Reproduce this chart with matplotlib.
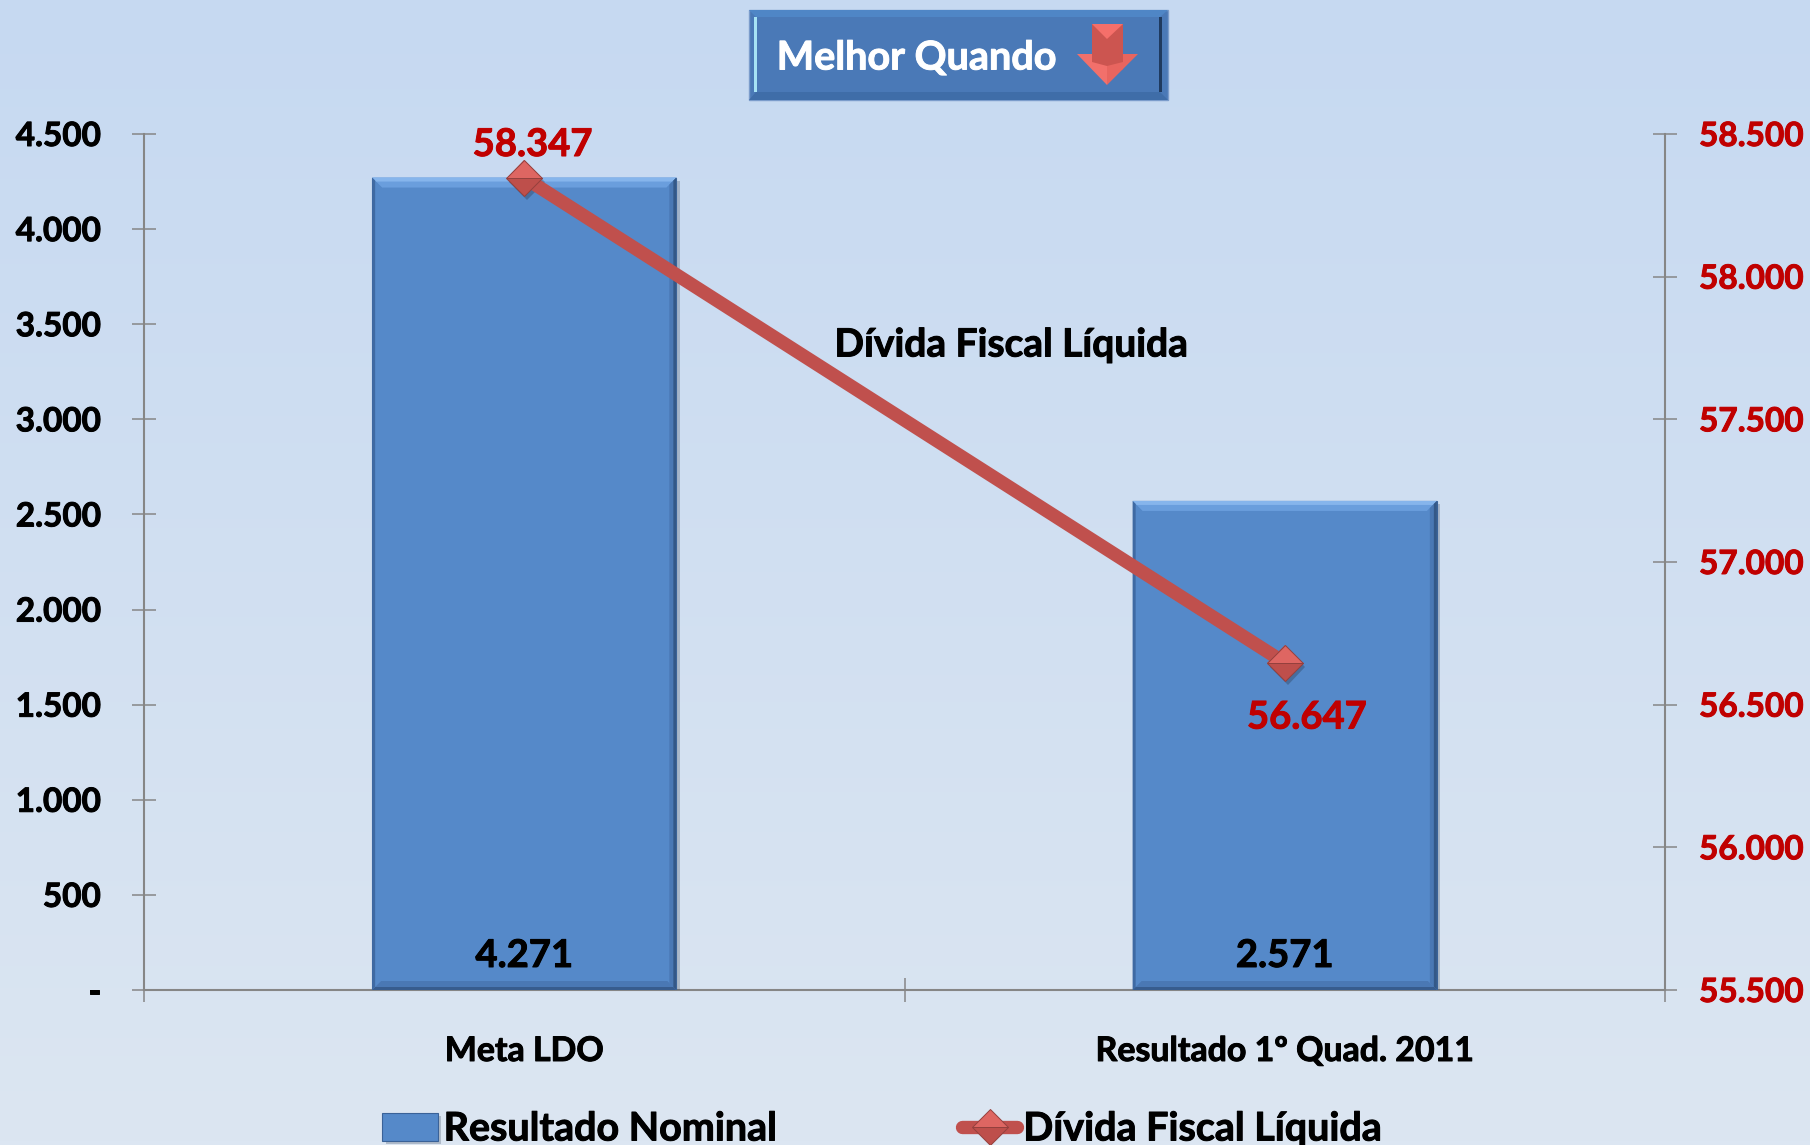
import matplotlib
matplotlib.use('Agg')
import matplotlib.pyplot as plt
import matplotlib.patheffects as pe
from matplotlib.colors import LinearSegmentedColormap
from matplotlib.patches import Polygon
from matplotlib.text import Text
from matplotlib.transforms import IdentityTransform
import numpy as np

# datos
categorias = ['Meta LDO', 'Resultado 1º Quad. 2011']
resultado_nominal = [4271, 2571]
divida_fiscal = [58347, 56647]
ticks_esq = [0, 500, 1000, 1500, 2000, 2500, 3000, 3500, 4000, 4500]
labels_esq = ['-', '500', '1.000', '1.500', '2.000', '2.500', '3.000', '3.500', '4.000', '4.500']
ticks_dir = [55500, 56000, 56500, 57000, 57500, 58000, 58500]
labels_dir = ['55.500', '56.000', '56.500', '57.000', '57.500', '58.000', '58.500']
labels_barra = ['4.271', '2.571']
labels_linha = ['58.347', '56.647']

W, H = 1810, 1145
plt.rcParams['font.family'] = ['Lato', 'DejaVu Sans']
plt.rcParams['font.weight'] = 'bold'

fig = plt.figure(figsize=(W / 100, H / 100), dpi=100)

# fondo con degrade
fundo = fig.add_axes([0, 0, 1, 1], zorder=0)
cm = LinearSegmentedColormap.from_list('fundo', ['#C6D9F1', '#DCE6F2'])
fundo.imshow(np.linspace(0, 1, 256).reshape(-1, 1), cmap=cm, aspect='auto', extent=[0, 1, 0, 1])
fundo.axis('off')

ax = fig.add_axes([144 / W, 1 - 990 / H, (1665 - 144) / W, (990 - 134) / H], zorder=1)
ax.patch.set_alpha(0)
ax2 = ax.twinx()
ax2.patch.set_alpha(0)

x = np.arange(len(categorias))
ax.set_xlim(-0.5, 1.5)
ax.set_ylim(0, 4500)
ax2.set_ylim(55500, 58500)

barras = ax.bar(x, resultado_nominal, width=0.4, color='#5589C9', edgecolor='#3A6298', linewidth=0.8,
                label='Resultado Nominal', zorder=2,
                path_effects=[pe.SimplePatchShadow(offset=(2.5, -2.5), alpha=0.25, shadow_rgbFace='#2A3A50'),
                              pe.Normal()])

# bisel de las barras, en pixeles
for r in barras:
    (x0, y0), (x1, y1) = ax.transData.transform([(r.get_x(), 0), (r.get_x() + r.get_width(), r.get_height())])
    caras = [
        # banda exterior y banda interior
        ([(x0, y1), (x1, y1), (x1 - 10, y1 - 10), (x0 + 10, y1 - 10)], '#6A9EDD'),
        ([(x0, y1), (x1, y1), (x1 - 4, y1 - 4), (x0 + 4, y1 - 4)], '#86B5EC'),
        ([(x0, y0), (x1, y0), (x1 - 9, y0 + 9), (x0 + 9, y0 + 9)], '#4A78B4'),
        ([(x0, y0), (x1, y0), (x1 - 3, y0 + 3), (x0 + 3, y0 + 3)], '#375C8E'),
        ([(x0, y0), (x0, y1), (x0 + 3, y1 - 3), (x0 + 3, y0 + 3)], '#3F6AA3'),
        ([(x1, y0), (x1, y1), (x1 - 7, y1 - 7), (x1 - 7, y0 + 7)], '#4A78B4'),
        ([(x1, y0), (x1, y1), (x1 - 3, y1 - 3), (x1 - 3, y0 + 3)], '#345887'),
    ]
    for pts, c in caras:
        ax.add_patch(Polygon(pts, closed=True, fc=c, ec='none', transform=IdentityTransform(), zorder=2.5))

for xi, txt in zip(x, labels_barra):
    ax.annotate(txt, (xi, 0), xytext=(0, 34 * 0.72), textcoords='offset points', ha='center', va='center',
                fontsize=27.5, color='black', zorder=5)

# sombra de los marcadores
ax2.plot(x, divida_fiscal, ls='', marker='D', ms=18, mfc='#C0504D', mec='none', zorder=3.5,
         path_effects=[pe.SimplePatchShadow(offset=(2, -3), alpha=0.35, shadow_rgbFace='#2A3A50'), pe.Normal()])
linha, = ax2.plot(x, divida_fiscal, color='#C0504D', lw=9.6, solid_capstyle='round', marker='D',
                  ms=18.5, mfc='#DE6662', markerfacecoloralt='#BE4F4B', fillstyle='top', mec='#94403D', mew=0.7,
                  label='Dívida Fiscal Líquida', zorder=4)

ax2.annotate(labels_linha[0], (x[0], divida_fiscal[0]), xytext=(6, 23.5), textcoords='offset points',
             ha='center', va='center', fontsize=27.5, color='#C00000')
ax2.annotate(labels_linha[1], (x[1], divida_fiscal[1]), xytext=(16, -39.5), textcoords='offset points',
             ha='center', va='center', fontsize=27.5, color='#C00000')
ax2.text(1011 / W, 1 - 345 / H, 'Dívida Fiscal Líquida', transform=fig.transFigure, ha='center', va='center',
         fontsize=28, color='black')

# ejes
cinza = '#868686'
for a in (ax, ax2):
    for s in a.spines.values():
        s.set_visible(False)
ax.spines['left'].set_visible(True)
ax.spines['bottom'].set_visible(True)
ax2.spines['right'].set_visible(True)
for s in (ax.spines['left'], ax.spines['bottom'], ax2.spines['right']):
    s.set_color(cinza)
    s.set_linewidth(1.5)
    s.set_zorder(1)

ax.set_yticks(ticks_esq, labels_esq)
ax2.set_yticks(ticks_dir, labels_dir)
ax.tick_params(axis='y', direction='inout', length=17, width=1.1, color=cinza, pad=22.5, labelsize=24)
ax2.tick_params(axis='y', direction='inout', length=17, width=1.1, color=cinza, pad=16, labelsize=24,
                labelcolor='#C00000')
ax.set_xticks([-0.5, 0.5, 1.5], ['', '', ''])
ax.tick_params(axis='x', direction='inout', length=17, width=1.1, color=cinza)
for xi, c in zip(x, categorias):
    ax.annotate(c, (xi, 0), xytext=(0, -61 * 0.72), textcoords='offset points', ha='center', va='center',
                fontsize=24.4, color='black', annotation_clip=False)

# legenda
leg = fig.legend(handles=[barras, linha], loc='center', bbox_to_anchor=(882 / W, 1 - 1129 / H), ncols=2,
                 frameon=False, fontsize=28.4, handlelength=1.4, handletextpad=0.15, columnspacing=4.7,
                 borderpad=0, labelspacing=0)

# recuadro "Melhor Quando"
def px_poly(pts, **kw):
    fig.add_artist(Polygon([(px / W, 1 - py / H) for px, py in pts], closed=True, transform=fig.transFigure, **kw))

px_poly([(749, 10), (1168, 10), (1168, 100), (749, 100)], fc='#4A79B7', ec='#7B9CCB', lw=1)
px_poly([(749, 10), (1168, 10), (1160, 17), (756, 17)], fc='#4F86C6', ec='none')
px_poly([(749, 100), (1168, 100), (1160, 92), (756, 92)], fc='#3F6DA8', ec='none')
px_poly([(754, 17), (757, 17), (757, 92), (754, 92)], fc='#A6E3F5', ec='none')
px_poly([(1159, 17), (1162, 17), (1162, 92), (1159, 92)], fc='#1F3A5F', ec='none')
fig.text(917 / W, 1 - 58 / H, 'Melhor Quando', ha='center', va='center', fontsize=28.5, color='white')
px_poly([(1092, 24), (1123, 24), (1123, 70), (1107, 66), (1092, 70)], fc='#CC5550', ec='none')
px_poly([(1092, 24), (1123, 24), (1107, 39)], fc='#F56F6A', ec='none')
px_poly([(1077, 54), (1092, 54), (1092, 62), (1107, 66), (1107, 85)], fc='#F2706B', ec='none')
px_poly([(1138, 54), (1123, 54), (1123, 62), (1107, 66), (1107, 85)], fc='#E8655F', ec='none')

# engrosar el texto (Lato bold queda mas fino que el original)
for t in fig.findobj(Text):
    t.set_path_effects([pe.withStroke(linewidth=0.7, foreground=t.get_color())])

fig.savefig('out.png', dpi=100)
